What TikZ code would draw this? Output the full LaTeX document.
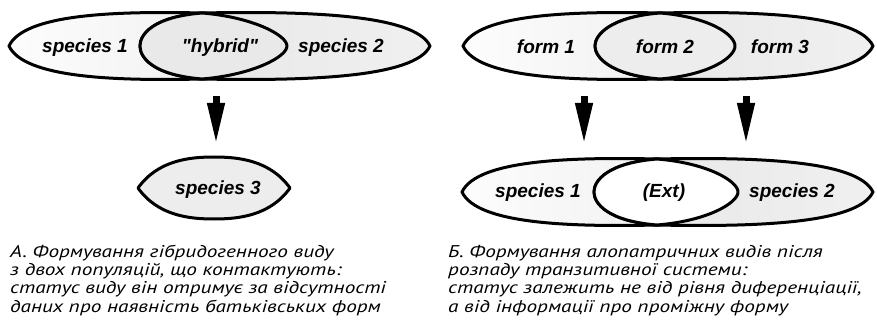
\documentclass[tikz,border=0pt]{standalone}
\usepackage{fontspec}
\usetikzlibrary{arrows.meta}
\newfontfamily\labfont{Liberation Sans}
\newfontfamily\capfont{PT Sans}[FakeStretch=1.25]

% Left part of a pair: pointed at #1, meets the partner at #2 (crossing), rounded inner end at #3, centre line #4
\newcommand\leftpart[4]{%
  (#1,#4) .. controls ({#1+15},{#4-32}) and ({#1+0.55*(#2-#1)},{#4-35}) .. (#2,{#4-33})
  .. controls ({#2+50},{#4-29}) and (#3,{#4-11}) .. (#3,#4)
  .. controls (#3,{#4+11}) and ({#2+50},{#4+29}) .. (#2,{#4+33})
  .. controls ({#1+0.55*(#2-#1)},{#4+35}) and ({#1+15},{#4+32}) .. (#1,#4) -- cycle}
% Right part of a pair: rounded inner end at #1, crossing at #2, pointed at #3, centre line #4
\newcommand\rightpart[4]{%
  (#1,#4) .. controls (#1,{#4-11}) and ({#2-50},{#4-29}) .. (#2,{#4-33})
  .. controls ({#3-0.55*(#3-#2)},{#4-35}) and ({#3-15},{#4-32}) .. (#3,#4)
  .. controls ({#3-15},{#4+32}) and ({#3-0.55*(#3-#2)},{#4+35}) .. (#2,{#4+33})
  .. controls ({#2-50},{#4+29}) and (#1,{#4+11}) .. (#1,#4) -- cycle}
% Overlap lens: rounded ends at #1 and #3, pointed top and bottom at #2
\newcommand\lens[4]{%
  (#1,#4) .. controls (#1,{#4-11}) and ({#2-50},{#4-29}) .. (#2,{#4-33})
  .. controls ({#2+50},{#4-29}) and (#3,{#4-11}) .. (#3,#4)
  .. controls (#3,{#4+11}) and ({#2+50},{#4+29}) .. (#2,{#4+33})
  .. controls ({#2-50},{#4+29}) and (#1,{#4+11}) .. (#1,#4) -- cycle}

\tikzset{
  outline/.style={draw=black,line width=3pt,line join=round},
  leftfill/.style={left color=gray!2,right color=gray!14},
  rightfill/.style={left color=gray!19,right color=gray!12},
  lab/.style={font=\labfont\bfseries\itshape\fontsize{19}{22}\selectfont,inner sep=0pt},
  capline/.style={font=\capfont\itshape\fontsize{17}{18}\selectfont,anchor=base west,inner sep=0pt},
  bigarrow/.style={line width=7pt,-{Triangle[length=42pt,width=16pt]}}
}

\begin{document}
\begin{tikzpicture}[x=1pt,y=-1pt]
\useasboundingbox (0,0) rectangle (877,331);

% ---- A: hybridogenous species ----
\path[leftfill,outline] \leftpart{9}{202}{287}{46};
\path[rightfill,outline] \rightpart{140}{202}{430}{46};
\path[fill=gray!17,outline] \lens{140}{202}{287}{46};
\path[fill=gray!14,outline] (138,188) .. controls (158,160) and (190,157) .. (214,157)
  .. controls (238,157) and (270,160) .. (290,188)
  .. controls (270,216) and (238,219) .. (214,219)
  .. controls (190,219) and (158,216) .. (138,188) -- cycle;

\node[lab] (sp1) at (85,48) {species 1};
\node[lab] (hyb) at (220,48) {"hybrid"};
\node[lab] (sp2) at (341,48) {species 2};
\node[lab] (sp3) at (218,190) {species 3};

\coordinate (aA1) at (216,96);
\coordinate (aA2) at (216,145);
\draw[bigarrow] (aA1) -- (aA2);

% ---- B: transitive system ----
\path[leftfill,outline] \leftpart{463}{660}{735}{46};
\path[rightfill,outline] \rightpart{595}{660}{873}{46};
\path[fill=gray!14,outline] \lens{595}{660}{735}{46};

\path[leftfill,outline] \leftpart{462}{657}{738}{192};
\path[rightfill,outline] \rightpart{594}{657}{873}{192};
\path[fill=white,outline] \lens{594}{657}{738}{192};

\node[lab] (f1) at (546,47) {form 1};
\node[lab] (f2) at (665,47) {form 2};
\node[lab] (f3) at (780,47) {form 3};
\node[lab] (bs1) at (538,193) {species 1};
\node[lab] (ext) at (664,193) {(Ext)};
\node[lab] (bs2) at (792,193) {species 2};

\coordinate (aB1) at (584,96);
\coordinate (aB2) at (584,145);
\coordinate (aB3) at (746,96);
\coordinate (aB4) at (746,145);
\draw[bigarrow] (aB1) -- (aB2);
\draw[bigarrow] (aB3) -- (aB4);

% ---- captions ----
\node[capline] (ca1) at (10,257) {А. Формування гібридогенного виду};
\node[capline] (ca2) at (10,275) {з двох популяцій, що контактують:};
\node[capline] (ca3) at (10,293) {статус виду він отримує за відсутності};
\node[capline] (ca4) at (10,312) {даних про наявність батьківських форм};

\node[capline] (cb1) at (448,257) {Б. Формування алопатричних видів після};
\node[capline] (cb2) at (448,275) {розпаду транзитивної системи:};
\node[capline] (cb3) at (448,293) {статус залежить не від рівня диференціації,};
\node[capline] (cb4) at (448,312) {а від інформації про проміжну форму};
\end{tikzpicture}
\end{document}
